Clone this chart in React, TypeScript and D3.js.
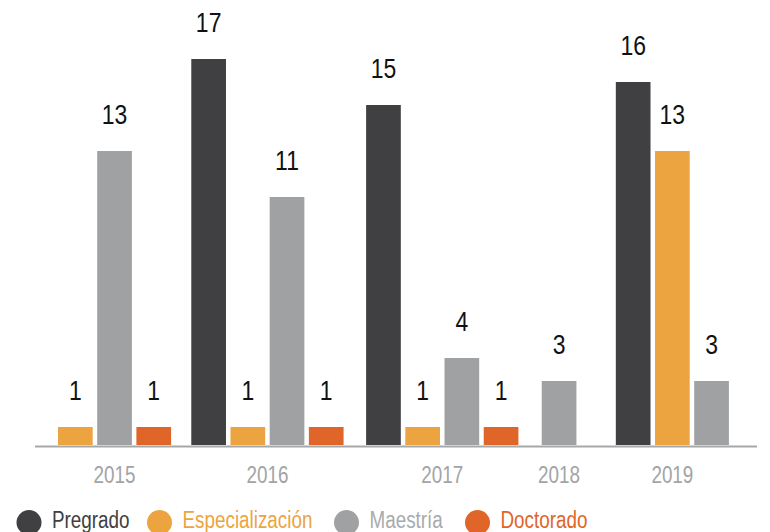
import React from 'react';
import * as d3 from 'd3';

const years = ['2015', '2016', '2017', '2018', '2019'];
const seriesNames = ['Pregrado', 'Especialización', 'Maestría', 'Doctorado'];
const pregrado = [null, 17, 15, null, 16];
const especializacion = [1, 1, 1, null, 13];
const maestria = [13, 11, 4, 3, 3];
const doctorado = [1, 1, 1, null, null];

const seriesValues = [pregrado, especializacion, maestria, doctorado];
const barColors = ['#404042', '#EBA43F', '#9FA1A2', '#DF6528'];
const textColors = ['#404042', '#EBA43F', '#A9ABAC', '#DF6528'];

// extra space (in bar slots) before each year group
const groupGaps = [0, 0.4, 0.46, 0.48, 0.89];
const legendX = [29, 159.5, 346.5, 477.5];

// no condensed face installed: squeeze Liberation Sans horizontally
const FONT = '"Liberation Sans", Arial, sans-serif';
const NARROW = 0.82;

const W = 770;
const H = 532;
const baseY = 445;

interface Bar {
  year: string;
  group: number;
  series: number;
  value: number;
  pos: number;
}

const NarrowText: React.FC<{
  x: number;
  y: number;
  size: number;
  fill: string;
  anchor?: 'start' | 'middle' | 'end';
  children: React.ReactNode;
}> = ({ x, y, size, fill, anchor = 'start', children }) => (
  <g transform={`translate(${x},${y}) scale(${NARROW},1)`}>
    <text textAnchor={anchor} fontFamily={FONT} fontSize={size} fill={fill}>
      {children}
    </text>
  </g>
);

const App: React.FC = () => {
  // lay out only the bars that exist, packed per year
  const bars: Bar[] = [];
  let pos = 0;
  const groupRanges: [number, number][] = [];
  years.forEach((year, gi) => {
    pos += groupGaps[gi];
    const start = pos;
    seriesValues.forEach((vals, si) => {
      const v = vals[gi];
      if (v == null) return;
      bars.push({ year, group: gi, series: si, value: v, pos });
      pos += 1;
    });
    groupRanges.push([start, pos]);
  });

  const step = 39.2;
  const x = d3.scaleLinear().domain([0, pos]).range([58, 58 + step * pos]);
  const barW = step * 0.885;
  const y = d3.scaleLinear().domain([0, 17]).range([450, 59]);

  return (
    <svg width={W} height={H} style={{ position: 'absolute', left: 0, top: 0 }}>
      <rect width={W} height={H} fill="#ffffff" />
      {bars.map((b, i) => (
        <g key={i}>
          <rect
            x={x(b.pos)}
            y={y(b.value)}
            width={barW}
            height={baseY - y(b.value)}
            fill={barColors[b.series]}
          />
          <NarrowText
            x={x(b.pos) + barW / 2}
            y={y(b.value) - 27}
            anchor="middle"
            size={28}
            fill="#111111"
          >
            {b.value}
          </NarrowText>
        </g>
      ))}
      <line x1={35} x2={757} y1={446.5} y2={446.5} stroke="#A7A8AA" strokeWidth={2} />
      {years.map((yr, gi) => {
        const [s, e] = groupRanges[gi];
        const cx = (x(s) + x(e) - (step - barW)) / 2;
        return (
          <NarrowText key={yr} x={cx} y={483} anchor="middle" size={23} fill="#A2A4A6">
            {yr}
          </NarrowText>
        );
      })}
      {seriesNames.map((name, si) => (
        <g key={name} transform={`translate(${legendX[si]},522.5)`}>
          <circle r={12.5} fill={barColors[si]} />
          <NarrowText x={23} y={5.5} size={23} fill={textColors[si]}>
            {name}
          </NarrowText>
        </g>
      ))}
    </svg>
  );
};

export default App;
